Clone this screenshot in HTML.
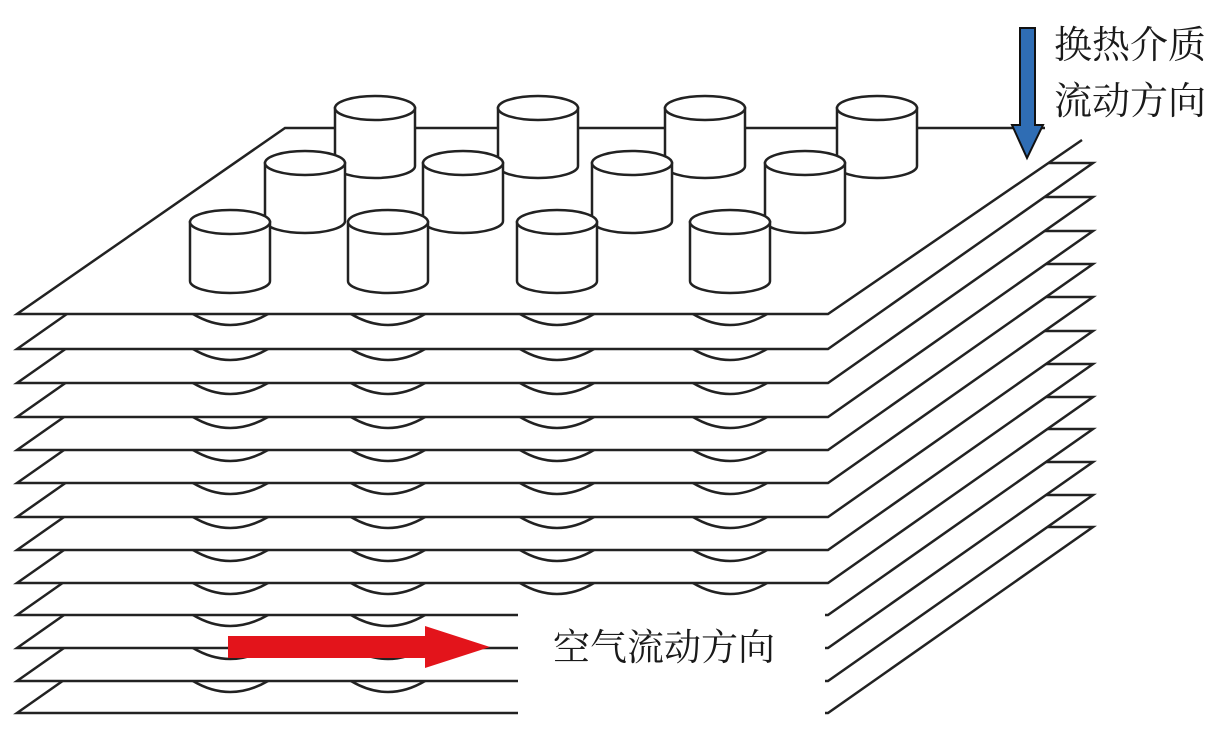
<!DOCTYPE html>
<html><head><meta charset="utf-8"><style>
html,body{margin:0;padding:0;background:#fff}
svg{display:block}
text{font-family:"Liberation Serif","Noto Serif CJK SC",serif;fill:#1a1a1a}
</style></head><body>
<svg width="1231" height="743" viewBox="0 0 1231 743" xmlns="http://www.w3.org/2000/svg">
<defs>
<g id="b" fill="#fff" stroke="#222" stroke-width="2.5">
<path d="M193 0 Q230 22 268 0"/>
<path d="M351 0 Q388 22 425 0"/>
<path d="M520 0 Q557 22 594 0"/>
<path d="M693 0 Q730 22 767 0"/>
</g>
</defs>
<g stroke="#222" stroke-width="2.5" fill="#fff" stroke-linejoin="miter">
<polygon points="17,713 282,527 1093,527 828,713"/>
<use href="#b" y="681"/>
<polygon points="17,681 282,495 1093,495 828,681"/>
<use href="#b" y="648"/>
<polygon points="17,648 282,462 1093,462 828,648"/>
<use href="#b" y="615"/>
<polygon points="17,615 282,429 1093,429 828,615"/>
<use href="#b" y="583"/>
<polygon points="17,583 282,397 1093,397 828,583"/>
<use href="#b" y="550"/>
<polygon points="17,550 282,364 1093,364 828,550"/>
<use href="#b" y="517"/>
<polygon points="17,517 282,331 1093,331 828,517"/>
<use href="#b" y="483"/>
<polygon points="17,483 282,297 1093,297 828,483"/>
<use href="#b" y="450"/>
<polygon points="17,450 282,264 1093,264 828,450"/>
<use href="#b" y="417"/>
<polygon points="17,417 282,231 1093,231 828,417"/>
<use href="#b" y="383"/>
<polygon points="17,383 282,197 1093,197 828,383"/>
<use href="#b" y="349"/>
<polygon points="17,349 282,163 1093,163 828,349"/>
<use href="#b" y="314"/>
<polygon points="17,314 285,128 1045,128 1082,140 828,314" stroke="none"/>
<polyline points="1045,128 285,128 17,314 828,314 1082,140" fill="none"/>
</g>
<rect x="518" y="598" width="307" height="145" fill="#fff"/>
<rect x="0" y="716" width="1231" height="27" fill="#fff"/>
<g stroke="#222" stroke-width="2.5" fill="#fff">
<path d="M335 108 L335 166 A40 12 0 0 0 415 166 L415 108 Z"/><ellipse cx="375" cy="108" rx="40" ry="12"/>
<path d="M498 108 L498 166 A40 12 0 0 0 578 166 L578 108 Z"/><ellipse cx="538" cy="108" rx="40" ry="12"/>
<path d="M665 108 L665 166 A40 12 0 0 0 745 166 L745 108 Z"/><ellipse cx="705" cy="108" rx="40" ry="12"/>
<path d="M837 108 L837 166 A40 12 0 0 0 917 166 L917 108 Z"/><ellipse cx="877" cy="108" rx="40" ry="12"/>
<path d="M265 163 L265 221 A40 12 0 0 0 345 221 L345 163 Z"/><ellipse cx="305" cy="163" rx="40" ry="12"/>
<path d="M423 163 L423 221 A40 12 0 0 0 503 221 L503 163 Z"/><ellipse cx="463" cy="163" rx="40" ry="12"/>
<path d="M592 163 L592 221 A40 12 0 0 0 672 221 L672 163 Z"/><ellipse cx="632" cy="163" rx="40" ry="12"/>
<path d="M765 163 L765 221 A40 12 0 0 0 845 221 L845 163 Z"/><ellipse cx="805" cy="163" rx="40" ry="12"/>
<path d="M190 222 L190 281 A40 12 0 0 0 270 281 L270 222 Z"/><ellipse cx="230" cy="222" rx="40" ry="12"/>
<path d="M348 222 L348 281 A40 12 0 0 0 428 281 L428 222 Z"/><ellipse cx="388" cy="222" rx="40" ry="12"/>
<path d="M517 222 L517 281 A40 12 0 0 0 597 281 L597 222 Z"/><ellipse cx="557" cy="222" rx="40" ry="12"/>
<path d="M690 222 L690 281 A40 12 0 0 0 770 281 L770 222 Z"/><ellipse cx="730" cy="222" rx="40" ry="12"/>
</g>
<polygon points="1020,28 1035,28 1035,125 1043,125 1027,158 1012,125 1020,125" fill="#2f6db4" stroke="#111" stroke-width="2"/>
<text x="1054" y="58" font-size="38">换热介质</text>
<text x="1054" y="114" font-size="38">流动方向</text>
<polygon points="228,636 425,636 425,626 490,647 425,668 425,658 228,658" fill="#e3141b"/>
<text x="553" y="660" font-size="37">空气流动方向</text>
</svg>
</body></html>
